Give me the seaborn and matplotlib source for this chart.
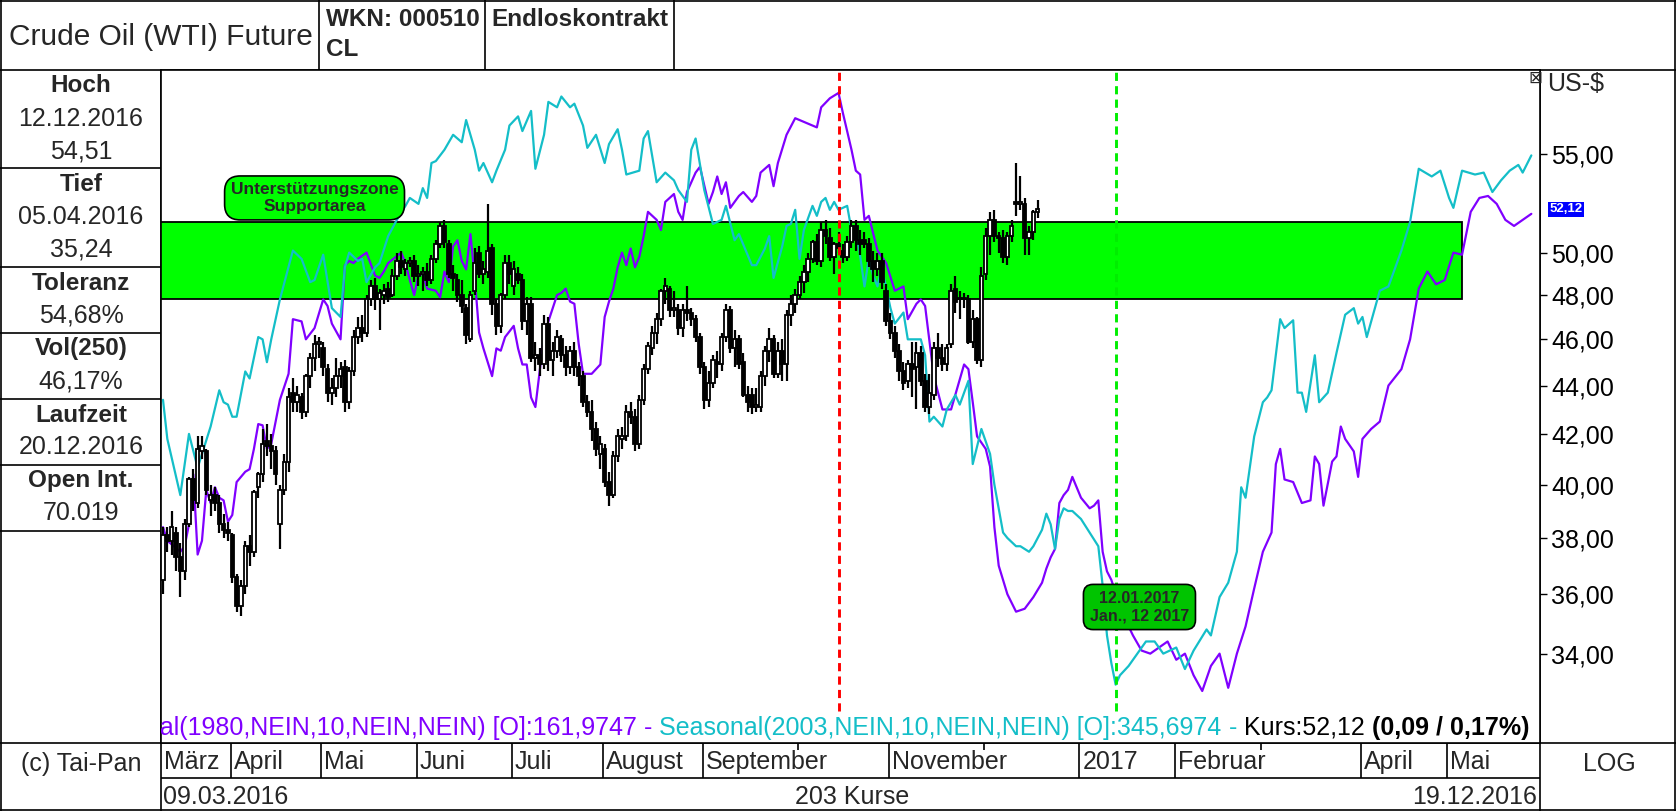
import numpy as np
import pandas as pd
import matplotlib
matplotlib.use("Agg")
import matplotlib.pyplot as plt
import matplotlib.transforms as mtransforms
from matplotlib.patches import Rectangle
from matplotlib.ticker import FixedLocator, NullLocator, FuncFormatter
import seaborn as sns

# ---- daily candles, 09.03.2016 - 19.12.2016 (one row per month) ----
opens = [36.5, 38.1, 37.9, 38.2, 37.3, 36.8, 38.5, 40.2, 39.3, 41.3, 41.3, 39.4, 39.6, 39.3, 38.5, 38.3,
         38.1, 36.6, 35.6, 36.3, 37.7, 37.5, 39.9, 40.4, 41.7, 41.5, 41.3, 38.5, 39.8, 40.9, 43.7, 43.3, 43.5, 42.9, 44.4, 45.2, 45.8,
         45.6, 44.7, 43.7, 43.9, 44.4, 44.8, 43.3, 44.6, 46.1, 46.5, 46.3, 47.8, 48.4, 47.8, 48.0, 48.3, 48.0, 48.9, 49.6, 49.2, 49.5, 49.6,
         48.9, 49.0, 49.1, 48.7, 49.7, 50.4, 51.3, 50.4, 49.0, 48.7, 48.0, 47.4, 46.0, 48.2, 50.0, 49.0, 49.1, 50.2, 47.6, 46.6, 48.0, 49.5,
         48.4, 49.0, 48.7, 46.8, 47.6, 45.2, 45.3, 44.9, 46.7, 45.1, 45.5, 46.0, 45.3, 44.8, 45.5, 44.8, 44.4, 43.3, 42.9, 42.2, 41.2,
         41.4, 40.1, 39.6, 41.1, 41.8, 41.9, 42.9, 42.7, 41.6, 43.4, 44.7, 45.6, 46.3, 46.9, 48.2, 48.3, 47.3, 47.3, 46.5, 47.3, 47.2, 46.9, 46.1,
         44.8, 43.4, 44.1, 45.0, 44.9, 46.1, 47.3, 45.6, 46.0, 45.0, 43.6, 43.6, 43.1, 43.1, 44.4, 45.5, 46.0, 44.5, 45.5, 44.9, 47.1, 47.6,
         48.0, 48.6, 49.1, 49.7, 50.5, 49.6, 51.1, 50.7, 49.8, 50.4, 50.1, 49.8, 50.5, 51.3, 50.6, 50.6, 50.4, 49.6, 49.2, 49.6, 48.2,
         46.8, 46.3, 45.5, 44.6, 44.2, 44.9, 44.8, 45.4, 44.2, 43.1, 43.6, 45.6, 45.2, 44.9, 45.8, 48.3, 47.8, 47.8, 47.8, 45.9, 46.9, 45.1,
         49.0, 50.8, 51.6, 50.8, 50.7, 49.8, 50.8, 52.5, 52.4, 52.4, 50.7, 51.0, 52.0]
highs = [38.4, 38.4, 39.0, 38.4, 37.8, 38.7, 40.3, 40.6, 41.9, 41.9, 41.4, 40.0, 39.9, 39.6, 38.9, 38.6,
         38.2, 36.7, 36.5, 37.9, 38.1, 39.8, 40.5, 42.2, 42.4, 42.0, 41.5, 40.0, 41.2, 43.9, 44.3, 44.0, 43.7, 44.5, 45.4, 46.2, 46.1,
         45.9, 44.9, 44.3, 45.2, 45.0, 45.1, 44.8, 46.4, 47.0, 47.1, 48.0, 48.7, 48.8, 48.3, 48.5, 48.6, 49.2, 50.0, 50.1, 49.7, 49.8, 49.9,
         49.4, 49.3, 49.5, 49.9, 50.6, 51.5, 51.6, 50.6, 49.4, 49.0, 48.7, 47.6, 48.2, 50.2, 50.3, 49.6, 52.4, 50.4, 47.8, 48.1, 49.9, 49.9,
         49.6, 49.3, 49.0, 47.9, 47.9, 45.9, 45.6, 47.1, 47.0, 45.9, 46.4, 46.2, 45.7, 45.7, 45.9, 45.0, 44.6, 43.6, 43.4, 42.5, 41.9,
         41.6, 40.5, 41.3, 42.2, 42.3, 43.2, 43.3, 43.0, 43.6, 44.9, 45.9, 46.6, 47.2, 48.3, 48.8, 48.4, 48.2, 47.6, 47.6, 48.4, 47.4, 47.1, 46.3,
         45.0, 44.6, 45.3, 45.5, 46.3, 47.6, 47.5, 46.4, 46.2, 45.4, 44.0, 43.9, 43.9, 44.6, 45.7, 46.5, 46.2, 45.9, 46.0, 47.3, 48.0, 48.3,
         48.9, 49.4, 50.0, 50.6, 50.9, 51.5, 51.6, 51.2, 50.5, 51.0, 50.4, 50.8, 51.6, 51.6, 51.1, 51.0, 50.7, 50.1, 50.0, 50.0, 48.5,
         47.2, 46.6, 45.8, 45.0, 45.1, 45.9, 45.9, 45.7, 44.5, 44.5, 45.9, 46.3, 45.8, 45.8, 48.5, 48.9, 48.2, 48.1, 48.0, 47.3, 47.0, 49.3,
         51.2, 52.0, 52.1, 51.0, 51.1, 51.0, 51.6, 54.51, 53.8, 52.7, 51.3, 52.1, 52.6]
lows = [36.0, 37.5, 37.4, 36.8, 35.9, 36.5, 38.4, 39.0, 39.1, 41.0, 39.6, 38.8, 39.0, 38.2, 38.0, 37.9,
        36.4, 35.4, 35.24, 36.0, 37.0, 37.3, 39.5, 40.1, 41.1, 40.6, 40.0, 37.6, 39.6, 40.5, 42.9, 42.9, 42.6, 42.7, 43.9, 44.6, 45.2,
        44.4, 43.3, 43.2, 43.5, 43.9, 42.9, 43.0, 44.4, 45.8, 45.9, 46.1, 47.5, 47.3, 46.4, 47.6, 47.7, 47.9, 48.7, 49.0, 48.9, 49.3, 48.6,
        48.4, 48.2, 48.4, 48.5, 49.5, 50.2, 50.2, 48.8, 48.2, 47.7, 47.2, 45.8, 45.9, 48.0, 48.8, 48.5, 48.8, 47.1, 46.2, 46.3, 47.8, 48.5,
        48.0, 48.5, 46.4, 46.2, 45.0, 44.6, 44.4, 44.7, 44.6, 44.4, 45.2, 45.0, 44.4, 44.5, 44.4, 44.0, 43.1, 42.7, 41.7, 41.1, 40.6,
        39.9, 39.19, 39.5, 40.9, 41.4, 41.7, 42.4, 41.3, 41.4, 43.2, 44.5, 45.3, 45.8, 46.6, 47.6, 47.0, 47.0, 46.2, 46.1, 46.8, 46.6, 45.9, 44.5,
        43.0, 43.1, 43.9, 44.3, 44.6, 45.9, 45.4, 44.8, 44.7, 43.5, 42.9, 42.8, 42.9, 42.9, 44.0, 45.0, 44.3, 44.3, 44.2, 44.2, 46.6, 47.2,
        47.8, 48.1, 48.6, 49.5, 49.4, 49.3, 50.4, 49.6, 49.0, 50.0, 49.5, 49.6, 50.2, 50.1, 49.9, 50.2, 49.3, 48.6, 48.9, 48.3, 46.6,
        46.0, 45.2, 44.2, 43.8, 43.9, 43.5, 43.0, 44.0, 42.9, 42.8, 43.4, 44.8, 44.6, 44.6, 45.6, 47.2, 46.9, 47.4, 45.8, 45.6, 44.9, 44.8,
        48.7, 49.9, 50.5, 50.0, 49.5, 49.4, 50.5, 51.8, 52.1, 49.9, 49.9, 50.6, 51.7]
closes = [38.1, 37.9, 38.4, 37.3, 36.8, 38.5, 40.2, 39.4, 41.4, 41.5, 39.8, 39.6, 39.3, 38.5, 38.3, 38.2,
          36.6, 35.6, 36.3, 37.7, 37.5, 39.7, 40.4, 41.6, 41.5, 41.3, 40.4, 39.8, 40.9, 43.5, 43.3, 43.6, 42.9, 44.4, 45.2, 45.8, 45.9,
          44.8, 43.7, 43.9, 44.4, 44.7, 43.3, 44.6, 46.1, 46.5, 46.3, 47.8, 48.4, 47.8, 48.1, 48.2, 47.9, 48.9, 49.6, 49.3, 49.5, 49.6, 48.9,
          49.0, 49.1, 48.7, 49.7, 50.4, 51.3, 50.5, 49.0, 48.8, 48.0, 47.5, 46.2, 48.0, 49.5, 49.0, 49.2, 50.1, 47.6, 46.6, 48.0, 49.5, 49.0,
          49.2, 48.7, 46.8, 47.6, 45.2, 45.3, 44.9, 46.7, 45.1, 45.5, 46.1, 45.3, 44.8, 45.5, 44.8, 44.4, 43.3, 42.9, 42.2, 41.4, 41.6,
          40.1, 39.6, 41.1, 41.9, 41.9, 42.9, 42.7, 41.6, 43.4, 44.7, 45.7, 46.3, 46.9, 48.2, 48.4, 47.3, 47.4, 46.5, 47.3, 47.2, 46.9, 46.1, 44.8,
          43.4, 44.1, 45.1, 44.9, 46.1, 47.3, 45.6, 46.0, 44.9, 43.6, 43.3, 43.1, 43.2, 44.4, 45.5, 46.0, 44.5, 45.5, 44.9, 47.1, 47.6, 48.0,
          48.6, 49.1, 49.7, 50.5, 49.6, 51.1, 50.8, 49.8, 50.4, 50.2, 49.8, 50.5, 51.3, 50.6, 50.4, 50.4, 49.6, 49.2, 49.6, 48.6, 46.8,
          46.3, 45.5, 44.6, 44.1, 44.9, 44.7, 45.4, 44.2, 43.1, 43.7, 45.6, 45.2, 44.9, 45.6, 48.2, 47.7, 47.8, 47.8, 45.9, 46.9, 45.1, 48.9,
          50.8, 51.6, 50.8, 50.7, 49.8, 50.8, 51.3, 52.4, 52.5, 50.7, 51.0, 52.0, 52.12]

# ---- seasonal projections (trading day index, price) ----
s1980_day = [0, 1, 4, 5, 6, 7, 8, 9, 10, 11, 12, 13, 14, 15, 16, 17, 19, 20, 21, 22, 23, 24, 25, 27, 29, 30, 32, 33, 35, 37,
             38, 39, 41, 42, 43, 44, 45, 47, 49, 50, 51, 52, 55, 56, 57, 58, 59, 60, 61, 63, 64, 65, 66, 67, 68, 69, 70, 71, 72, 73,
             74, 76, 77, 78, 79, 81, 82, 83, 84, 85, 86, 88, 89, 91, 92, 93, 94, 95, 96, 97, 99, 100, 101, 102, 103, 104, 105, 106,
             107, 108, 109, 110, 111, 112, 114, 115, 116, 118, 119, 120, 121, 123, 124, 126, 127, 128, 129, 130, 131, 133, 134, 136,
             137, 138, 140, 141, 142, 144, 146, 149, 151, 152, 154, 156, 157, 159, 160, 161, 162, 163, 165, 167, 169, 171, 172, 174,
             175, 176, 178, 180, 182, 185, 186, 187, 188, 190, 191, 192, 193, 195, 197, 199, 201, 203, 204, 205, 206, 207, 208, 209,
             210, 212, 214, 215, 216, 217, 218, 219, 221, 222, 224, 226, 228, 230, 232, 234, 236, 238, 240, 242, 244, 246, 248, 250,
             252, 254, 256, 257, 258, 259, 261, 263, 265, 266, 267, 268, 270, 271, 272, 273, 275, 276, 277, 279, 281, 283, 286, 288,
             290, 292, 294, 296, 298, 300, 302, 304, 306, 308, 310, 312, 314, 316]
s1980_val = [38.4, 37.9, 37.5, 37.7, 38.5, 40.4, 37.4, 37.9, 39.8, 39.3, 39.9, 39.5, 39.4, 38.6, 38.85, 40.1, 40.5, 40.6, 41.4,
             42.4, 42.35, 41.4, 41.6, 43.4, 44.5, 46.9, 46.8, 46.0, 46.5, 47.8, 47.5, 46.7, 46.0, 49.4, 49.6, 49.5, 49.7, 50.0, 48.9,
             48.8, 49.1, 49.5, 50.0, 49.5, 48.7, 48.0, 48.9, 49.0, 48.3, 48.2, 47.9, 49.1, 48.6, 50.3, 50.6, 49.6, 49.2, 50.9, 48.8,
             46.3, 45.6, 44.4, 45.6, 45.5, 46.1, 46.6, 45.6, 44.9, 44.9, 43.5, 43.1, 46.2, 46.8, 48.0, 48.1, 48.3, 47.7, 47.6, 45.8,
             44.5, 44.5, 44.7, 44.9, 47.0, 47.7, 48.3, 49.3, 50.0, 49.4, 50.2, 49.3, 49.8, 50.8, 52.0, 51.6, 51.1, 52.5, 52.9, 52.0,
             51.6, 53.0, 54.0, 54.3, 52.4, 53.0, 53.8, 52.9, 53.5, 52.2, 52.8, 53.0, 52.5, 52.8, 54.0, 54.4, 53.3, 54.5, 56.0, 56.9,
             56.6, 56.4, 57.5, 58.0, 58.3, 57.2, 55.2, 54.1, 53.9, 51.6, 51.8, 50.1, 49.5, 48.2, 48.4, 46.9, 47.6, 47.8, 47.5, 44.4,
             43.0, 43.0, 44.9, 44.7, 43.3, 41.9, 41.4, 40.7, 38.4, 37.0, 36.0, 35.4, 35.5, 35.9, 36.4, 36.9, 37.3, 37.6, 39.3, 39.6,
             39.8, 40.3, 39.5, 39.1, 39.2, 39.4, 37.5, 36.8, 36.5, 35.6, 35.2, 34.6, 34.1, 34.0, 34.2, 34.4, 33.8, 34.0, 33.3, 32.8,
             33.6, 34.0, 32.9, 34.0, 34.9, 36.2, 37.5, 38.2, 40.8, 41.4, 40.2, 40.1, 39.3, 39.4, 41.1, 40.8, 39.2, 40.9, 41.1, 42.3,
             41.8, 41.3, 40.3, 41.8, 42.2, 42.5, 44.0, 44.7, 46.0, 48.3, 49.1, 48.5, 48.7, 50.0, 49.9, 52.0, 52.7, 52.8, 52.4, 51.6,
             51.3, 51.6, 51.9]
s2003_day = [0, 1, 4, 6, 8, 11, 13, 14, 15, 16, 17, 19, 20, 22, 23, 24, 25, 27, 30, 32, 34, 35, 37, 39, 41, 42, 43, 45, 46, 47,
             49, 50, 52, 54, 56, 57, 59, 60, 61, 62, 63, 65, 67, 69, 70, 72, 73, 74, 76, 77, 79, 80, 82, 83, 85, 86, 88, 89, 91, 92,
             94, 95, 97, 98, 100, 102, 103, 105, 106, 107, 110, 111, 112, 114, 116, 118, 119, 121, 122, 123, 125, 127, 129, 130, 132,
             133, 136, 137, 139, 140, 141, 143, 144, 145, 146, 147, 148, 150, 151, 152, 153, 154, 155, 156, 158, 159, 160, 162, 163,
             164, 165, 166, 168, 169, 171, 172, 175, 176, 177, 178, 180, 181, 183, 184, 186, 187, 189, 191, 192, 193, 194, 195, 197,
             198, 200, 201, 203, 204, 205, 206, 207, 208, 209, 210, 212, 214, 216, 217, 218, 219, 220, 221, 223, 225, 227, 229, 231,
             234, 236, 238, 241, 242, 244, 246, 248, 249, 250, 252, 254, 255, 256, 258, 259, 261, 262, 263, 264, 266, 267, 269, 271,
             273, 275, 276, 277, 278, 281, 283, 286, 288, 290, 293, 295, 297, 298, 300, 303, 305, 307, 309, 311, 313, 314, 316]
s2003_val = [43.4, 41.8, 39.6, 42.0, 40.65, 42.3, 43.8, 43.3, 43.2, 42.7, 42.7, 44.6, 44.3, 46.1, 46.0, 45.0, 46.0, 47.8, 50.1,
             49.7, 48.6, 48.7, 49.9, 47.4, 47.0, 49.3, 50.0, 49.6, 49.7, 48.6, 49.3, 49.5, 50.8, 51.6, 52.3, 52.7, 52.4, 53.2, 52.7,
             54.5, 54.6, 55.2, 56.0, 55.6, 56.8, 55.2, 54.1, 54.5, 53.5, 54.1, 55.2, 56.5, 57.0, 56.2, 57.3, 54.2, 56.0, 57.8, 57.5,
             58.1, 57.5, 57.7, 56.5, 55.3, 56.0, 54.5, 55.5, 56.3, 55.2, 53.9, 54.1, 55.8, 56.2, 53.5, 54.0, 53.6, 53.1, 52.5, 55.2,
             55.8, 53.1, 51.4, 51.6, 52.3, 50.6, 50.9, 49.4, 49.4, 50.2, 50.8, 48.8, 50.3, 51.3, 51.4, 52.1, 49.7, 51.1, 52.3, 51.8,
             52.5, 52.7, 52.1, 52.5, 52.1, 52.3, 51.1, 51.3, 48.4, 49.7, 48.9, 48.4, 49.3, 47.4, 46.7, 47.2, 46.0, 46.0, 45.3, 42.5,
             42.7, 42.3, 43.0, 43.6, 43.2, 44.2, 40.8, 42.2, 41.2, 40.0, 39.1, 38.2, 38.0, 37.7, 37.7, 37.5, 37.7, 38.3, 38.9, 38.5,
             37.6, 38.7, 39.1, 39.0, 39.0, 38.7, 38.2, 37.7, 36.3, 34.6, 33.7, 33.0, 33.3, 33.6, 34.0, 34.4, 34.4, 34.0, 34.2, 33.5,
             34.1, 34.8, 34.6, 35.9, 36.4, 37.5, 39.9, 39.5, 41.9, 43.3, 43.5, 43.8, 46.9, 46.5, 46.85, 43.7, 43.7, 42.9, 45.3, 43.3,
             43.7, 45.4, 47.1, 47.4, 46.7, 47.0, 46.1, 48.2, 48.4, 50.1, 51.5, 54.2, 53.8, 54.1, 52.7, 52.2, 54.1, 53.9, 54.0, 53.0,
             53.6, 54.1, 54.4, 54.0, 54.9]

zone_low, zone_high, zone_end = 47.8, 51.5, 300
y_ticks = [34, 36, 38, 40, 42, 44, 46, 48, 50, 55]
month_names = ["April", "Mai", "Juni", "Juli", "August", "September", "", "November", "", "2017",
               "Februar", "", "April", "Mai"]
info_rows = [("Vol(250)", "46,17%"), ("Laufzeit", "20.12.2016"), ("Open Int.", "70.019")]
legend_parts = [("Seasonal(1980,NEIN,10,NEIN,NEIN) [O]:161,9747", "#8000ff", "normal"),
                ("-", "#8000ff", "normal"),
                ("Seasonal(2003,NEIN,10,NEIN,NEIN) [O]:345,6974", "#14bec8", "normal"),
                ("-", "#14bec8", "normal"),
                ("Kurs:52,12", "black", "normal"),
                ("(0,09 / 0,17%)", "black", "bold")]

PURPLE, CYAN = "#8000ff", "#14bec8"
W, H = 1676, 811

sns.set_theme(style="white")
plt.rcParams['font.family'] = ['Liberation Sans', 'DejaVu Sans']
plt.rcParams['axes.linewidth'] = 1.2

cal = pd.bdate_range("2016-03-09", "2017-06-30")
cal = cal[cal != pd.Timestamp("2016-03-25")]
days = np.arange(len(closes))
o, h, l, c = map(np.array, (opens, highs, lows, closes))

fig = plt.figure(figsize=(W / 100, H / 100), dpi=100)
fig.patch.set_facecolor("white")


def box(left, top, right, bottom):
    return [left / W, 1 - bottom / H, (right - left) / W, (bottom - top) / H]


# frame with the table lines and text cells, in pixel units
frame = fig.add_axes([0, 0, 1, 1], zorder=0)
frame.set_xlim(0, W)
frame.set_ylim(H, 0)
frame.axis("off")
lk = dict(color="black", lw=1.2)
frame.hlines([0.6, 70, 743, H - 0.6], 0, W, **lk)
frame.hlines(778, 161, 1540, **lk)
frame.hlines([168, 267, 333, 399, 465, 531], 0, 161, **lk)
frame.vlines([0.6, W - 0.6], 0, H, **lk)
frame.vlines([319, 485, 674], 0, 70, **lk)
frame.vlines([161, 1540], 70, H, **lk)

frame.text(9, 37, "Crude Oil (WTI) Future", fontsize=21.5, va="center")
frame.text(326, 20, "WKN: 000510", fontsize=17.5, fontweight="bold", va="center")
frame.text(326, 50, "CL", fontsize=17.5, fontweight="bold", va="center")
frame.text(491, 20, "Endloskontrakt", fontsize=17.5, fontweight="bold", va="center")

ih, il = int(np.argmax(h)), int(np.argmin(l))
tol = (h[ih] - l[il]) / l[il] * 100
fmt = lambda v: f"{v:.2f}".replace(".", ",")
cells = [("Hoch", [cal[ih].strftime("%d.%m.%Y"), fmt(h[ih])]),
         ("Tief", [cal[il].strftime("%d.%m.%Y"), fmt(l[il])]),
         ("Toleranz", [fmt(tol) + "%"])] + [(a, [b]) for a, b in info_rows]
y = 86
for head, vals in cells:
    frame.text(81, y, head, fontsize=17.5, fontweight="bold", ha="center", va="center")
    y += 32.5
    for v in vals:
        frame.text(81, y, v, fontsize=18, ha="center", va="center")
        y += 32.5
    y += 1

frame.text(81, 764, "(c) Tai-Pan", fontsize=18, ha="center", va="center")
frame.text(1609, 764, "LOG", fontsize=18, ha="center", va="center")
frame.text(1547, 84, "US-$", fontsize=18, va="center")
frame.text(163, 797, cal[0].strftime("%d.%m.%Y"), fontsize=18, va="center")
frame.text(852, 797, f"{len(closes)} Kurse", fontsize=18, ha="center", va="center")
frame.text(1537, 797, cal[len(closes) - 1].strftime("%d.%m.%Y"), fontsize=18, ha="right", va="center")

# main price chart
ax = fig.add_axes(box(161, 70, 1540, 743), zorder=2)
ax.set_facecolor("white")
ax.add_patch(Rectangle((-5, zone_low), zone_end + 5, zone_high - zone_low,
                       facecolor="#00ff00", edgecolor="black", lw=1.3, zorder=1))

sns.lineplot(x=s1980_day, y=s1980_val, ax=ax, color=PURPLE, linewidth=1.6, errorbar=None, zorder=2)
sns.lineplot(x=s2003_day, y=s2003_val, ax=ax, color=CYAN, linewidth=1.6, errorbar=None, zorder=2)

ax.vlines(days, l, h, color="black", lw=1.6, zorder=3)
ax.bar(days, np.maximum(np.abs(c - o), 0.08), bottom=np.minimum(o, c), width=0.8,
       color=np.where(c >= o, "white", "black"), edgecolor="black", linewidth=1.3, zorder=4)

peak_day = s1980_day[int(np.argmax(s1980_val))]
low_day = s2003_day[int(np.argmin(s2003_val))]
ax.axvline(peak_day, ymin=0.048, ymax=1, color="#ff0000", lw=2.1, ls=(0, (2.8, 1.8)), zorder=5)
ax.axvline(low_day, ymin=0.048, ymax=1, color="#00ee00", lw=2.1, ls=(0, (2.8, 1.8)), zorder=5)

ax.set_yscale("log")
ax.set_ylim(31.2, 59.6)
ax.set_xlim(-0.46, 318)
ax.yaxis.set_major_locator(FixedLocator(y_ticks))
ax.yaxis.set_minor_locator(NullLocator())
ax.yaxis.set_major_formatter(FuncFormatter(lambda v, p: fmt(v)))
ax.tick_params(axis="y", left=False, right=True, labelleft=False, labelright=True,
               direction="out", length=5, width=1, labelsize=18, pad=3, colors="black")
ax.tick_params(axis="x", bottom=False, labelbottom=False)
ax.set_xlabel("")
ax.set_ylabel("")
for sp in ax.spines.values():
    sp.set_color("black")
    sp.set_linewidth(1.2)

ax.text(35, 52.7, "Unterstützungszone\nSupportarea", ha="center", va="center",
        fontsize=12.5, fontweight="bold", linespacing=1.15, zorder=6,
        bbox=dict(boxstyle="round,pad=0.35,rounding_size=0.9", fc="#00ff00", ec="black", lw=1.2))
d = cal[low_day]
ax.text(low_day + 5.5, 35.56, f"{d:%d.%m.%Y}\n{d:%b}., {d.day} {d.year}", ha="center", va="center",
        fontsize=11.5, fontweight="bold", linespacing=1.2, zorder=6,
        bbox=dict(boxstyle="round,pad=0.4,rounding_size=0.6", fc="#00c400", ec="black", lw=1.2))

trans = mtransforms.blended_transform_factory(ax.transAxes, ax.transData)
ax.text(1.0068, closes[-1], fmt(closes[-1]), transform=trans, ha="left", va="center",
        fontsize=9.5, fontweight="bold", color="white", clip_on=False, zorder=7,
        bbox=dict(boxstyle="square,pad=0.12", fc="#0000ff", ec="none"))
ax.text(0.9966, 0.9885, "\u22a0", transform=ax.transAxes, ha="center", va="center",
        fontsize=12, family="DejaVu Sans", zorder=7)

# month row under the chart
mx = fig.add_axes(box(161, 743, 1540, 778), zorder=1)
mx.set_xlim(ax.get_xlim())
mx.set_ylim(0, 1)
mx.axis("off")
off = mtransforms.offset_copy(mx.transData, fig=fig, x=3, y=0, units="dots")
mx.text(-0.46, 0.47, "März", transform=off, fontsize=18, va="center")
starts = pd.date_range("2016-04-01", periods=len(month_names), freq="MS")
for name, m in zip(month_names, starts):
    p = cal.searchsorted(m) - 0.4
    if name:
        mx.vlines(p, 0, 1, color="black", lw=1.2)
        mx.text(p, 0.47, name, transform=off, fontsize=18, va="center")
    else:
        mx.vlines(p, 0.8, 1, color="black", lw=1.2)

# coloured status line, laid out right to left and clipped at the chart edge
fig.canvas.draw()
rend = fig.canvas.get_renderer()
bb = ax.get_window_extent(rend)
x_right = 1529
fs = 18
gap = 0.278 * fs * 100 / 72
ya = (743 - 728) / 673
for text, col, wt in reversed(legend_parts):
    t = ax.text((x_right - bb.x0) / bb.width, ya, text, transform=ax.transAxes, ha="right", va="center",
                fontsize=fs, color=col, fontweight=wt, clip_on=True, zorder=8)
    x_right = t.get_window_extent(rend).x0 - gap

fig.savefig("out.png", dpi=100, facecolor="white")
